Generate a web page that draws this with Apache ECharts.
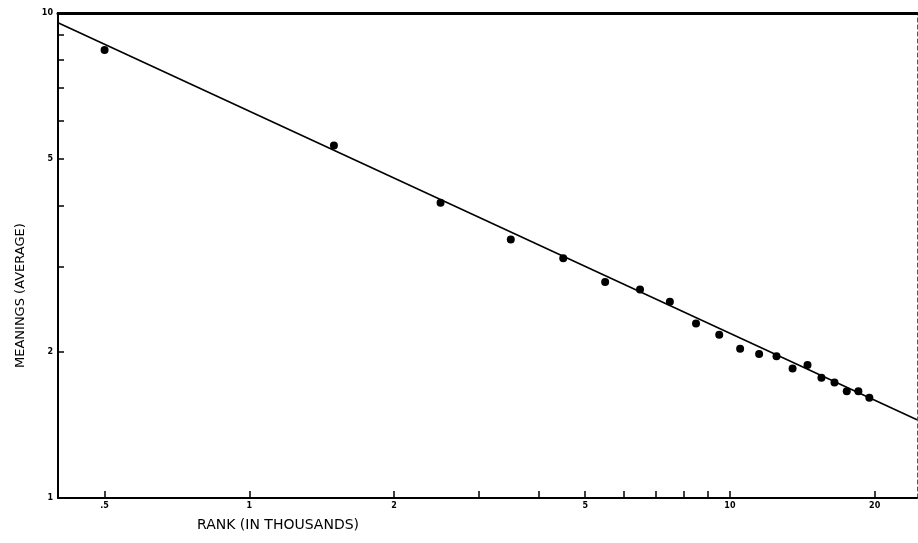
<!DOCTYPE html>
<html>
<head>
<meta charset="utf-8">
<script src="https://cdn.jsdelivr.net/npm/echarts@6/dist/echarts.min.js"></script>
<style>
html,body{margin:0;padding:0;background:#fff;}
#chart{width:918px;height:543px;}
</style>
</head>
<body>
<div id="chart"></div>
<script>
// Rank (in thousands) and average number of meanings
const rankThousands = [0.5, 1.5, 2.5, 3.5, 4.5, 5.5, 6.5, 7.5, 8.5, 9.5, 10.5, 11.5, 12.5, 13.5, 14.5, 15.5, 16.5, 17.5, 18.5, 19.5];
const meanings = [8.39, 5.33, 4.06, 3.41, 3.12, 2.79, 2.69, 2.54, 2.29, 2.17, 2.03, 1.98, 1.96, 1.85, 1.88, 1.77, 1.73, 1.66, 1.66, 1.61];
// Fitted straight line (log-log), end points
const fitRank = [0.4, 24.5];
const fitMeanings = [9.55, 1.45];
// Axis ticks and labels
const xTickValues = [0.5, 1, 2, 3, 4, 5, 6, 7, 8, 9, 10, 20];
const xLabelValues = [0.5, 1, 2, 5, 10, 20];
const yTickValues = [1, 2, 3, 4, 5, 6, 7, 8, 9, 10];
const yLabelValues = [1, 2, 5, 10];
const xMin = 0.4, xMax = 24.5, yMin = 1, yMax = 10;
const xTitle = 'RANK (IN THOUSANDS)';
const yTitle = 'MEANINGS (AVERAGE)';

const chart = echarts.init(document.getElementById('chart'));
const fmt = v => {
  const r = Math.round(v * 10) / 10;
  return r < 1 ? '.' + String(r).split('.')[1] : String(r);
};
const labelStyle = {fontFamily: 'DejaVu Sans', fontSize: 8, fontWeight: 'bold', color: '#000'};

chart.setOption({
  animation: false,
  backgroundColor: '#fff',
  grid: {left: 58, right: 1, top: 13, bottom: 45, outerBoundsMode: 'none', containLabel: false},
  xAxis: [{
    type: 'log', min: xMin, max: xMax,
    axisLine: {lineStyle: {color: '#000', width: 2}},
    axisTick: {inside: true, length: 7, lineStyle: {color: '#000', width: 1.5}, customValues: xTickValues},
    axisLabel: Object.assign({customValues: xLabelValues, formatter: fmt, margin: 4}, labelStyle),
    splitLine: {show: false}, minorTick: {show: false}
  }, {
    type: 'log', min: xMin, max: xMax, position: 'top',
    axisLine: {show: true, lineStyle: {color: '#000', width: 3}},
    axisTick: {show: false}, axisLabel: {show: false}, splitLine: {show: false}
  }],
  yAxis: [{
    type: 'log', min: yMin, max: yMax,
    axisLine: {lineStyle: {color: '#000', width: 2}},
    axisTick: {inside: true, length: 6, lineStyle: {color: '#000', width: 1.5}, customValues: yTickValues},
    axisLabel: Object.assign({customValues: yLabelValues, formatter: fmt, margin: 5}, labelStyle),
    splitLine: {show: false}, minorTick: {show: false}
  }, {
    type: 'log', min: yMin, max: yMax, position: 'right',
    axisLine: {show: true, lineStyle: {color: '#555', width: 1, type: [4, 3]}},
    axisTick: {show: false}, axisLabel: {show: false}, splitLine: {show: false}
  }],
  series: [{
    type: 'line',
    data: fitRank.map((x, i) => [x, fitMeanings[i]]),
    showSymbol: false, symbol: 'none',
    lineStyle: {color: '#000', width: 1.6},
    silent: true
  }, {
    type: 'scatter',
    data: rankThousands.map((x, i) => [x, meanings[i]]),
    symbol: 'circle', symbolSize: 8,
    itemStyle: {color: '#000', opacity: 1}
  }],
  graphic: [{
    type: 'text', left: 197, top: 518,
    style: {text: xTitle, font: '14px "DejaVu Sans"', fill: '#000'}
  }, {
    type: 'text', rotation: Math.PI / 2, x: 14, y: 368,
    style: {text: yTitle, font: '13px "DejaVu Sans"', fill: '#000', align: 'left', verticalAlign: 'top'}
  }]
});
</script>
</body>
</html>
